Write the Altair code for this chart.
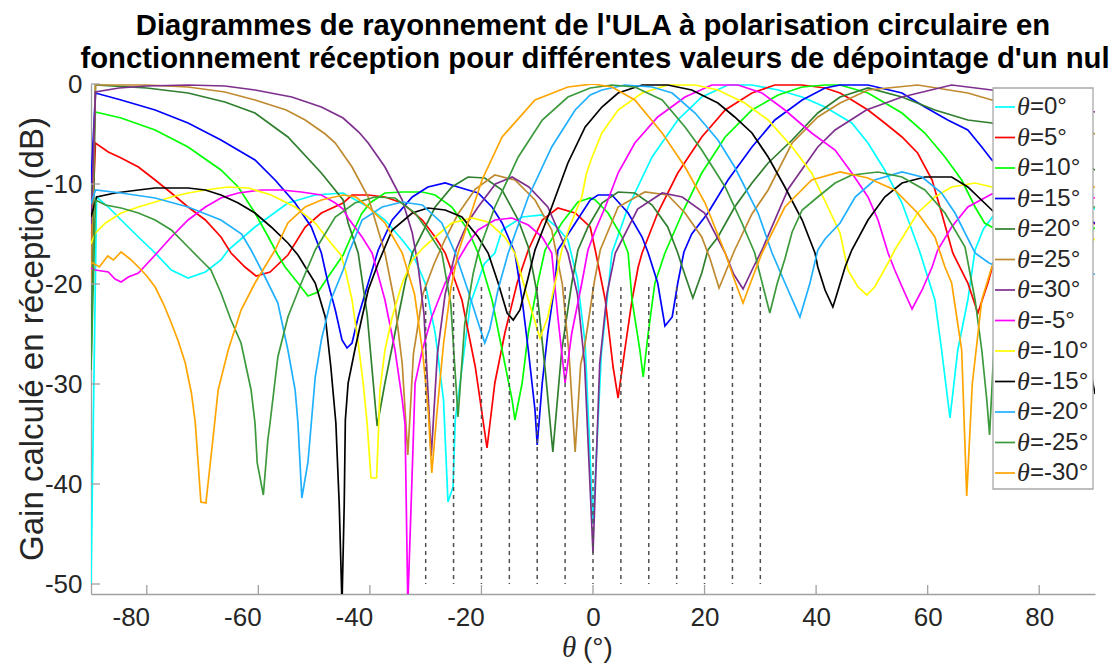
import altair as alt
import pandas as pd

# ---------------- data ----------------
NAMES = ["θ=0°", "θ=5°", "θ=10°", "θ=15°", "θ=20°", "θ=25°", "θ=30°",
         "θ=-5°", "θ=-10°", "θ=-15°", "θ=-20°", "θ=-25°", "θ=-30°"]
COLORS = ["#00FFFF", "#FF0000", "#00FF00", "#0000FF", "#2F7F2F", "#BF8A30", "#7E2F8E",
          "#FF00FF", "#FFFF00", "#000000", "#20B0FF", "#3C9A3C", "#FFA500"]

T0 = [(-90,-50),(-89,-11.3),(-86.9,-12.3),(-84.6,-13.6),(-81.5,-15.3),(-78.5,-16.9),(-75.6,-18.6),(-72.6,-19.4),(-69.5,-18.8),(-66.7,-17.6),(-65.4,-16.6),(-60.6,-14.3),(-54.7,-11.9),(-49.8,-11.1),(-44.8,-10.9),(-43.2,-11.4),(-40.3,-12.3),(-37.3,-13.6),(-34.2,-15.6),(-32.4,-16.9),(-30.1,-19.9),(-28.3,-24.9),(-26.8,-31.6),(-26,-41.8),(-25.1,-40.3),(-24.7,-33.6),(-22,-22),(-19.5,-18),(-17.6,-16.9),(-16.3,-14.6),(-12.7,-13.3),(-9.1,-13.1),(-6.5,-14.3),(-4.5,-15.6),(-2.8,-19.5),(-1.4,-26),(0,-44),(1.5,-27),(3.4,-16.9),(6.3,-12.3),(10.6,-7.3),(15.2,-3.6),(19.5,-1.3),(24.2,-0.1),(28.5,-0.1),(33.2,-0.6),(37.5,-1.3),(41.6,-2.3),(43.4,-2.9),(46.4,-3.9),(49.3,-5.9),(52.3,-8.6),(55.4,-11.9),(58.6,-16.8),(61.3,-21.6),(62.5,-26.6),(64,-33.4),(65.4,-26.6),(67.2,-21.6),(68.5,-16.6),(70,-14.5),(72,-13),(76,-11.5),(81,-11),(86,-11.5),(90,-12.5)]
T5 = [(-90,-17),(-89.2,-5.9),(-86.9,-6.8),(-84.6,-7.4),(-81.5,-8.3),(-78.5,-9.6),(-75.6,-10.9),(-72.6,-12.3),(-69.5,-13.6),(-66.7,-15.3),(-64.9,-16.9),(-62.4,-18.3),(-60.4,-19.2),(-57.9,-18.8),(-54.7,-17.1),(-51.6,-14.3),(-48.7,-12.9),(-44.8,-11.9),(-43.2,-11.1),(-40.3,-11.1),(-37.3,-11.3),(-34.2,-11.9),(-30.6,-13.6),(-28.3,-15.3),(-26.5,-16.9),(-23.5,-21.6),(-21.1,-28.3),(-19,-36.4),(-17.6,-29.9),(-15.8,-24.9),(-13.6,-19.9),(-11.6,-16.6),(-9.1,-13.6),(-6.3,-12.4),(-3.2,-12.9),(-0.5,-14.3),(0.4,-16.6),(2.2,-21.6),(3.6,-28.3),(4.5,-31.4),(5.7,-26.6),(7,-21.6),(8.1,-18.3),(8.8,-16.9),(11.6,-12.9),(15.2,-8.9),(19.5,-5.3),(23.7,-2.6),(28.5,-0.9),(32.6,-0.1),(37.5,-0.1),(41.6,-0.4),(44.3,-0.9),(46.4,-1.6),(49.3,-2.6),(52.3,-3.9),(55.4,-5.3),(58.2,-6.9),(60.8,-9.6),(62.5,-12.9),(64.5,-16.9),(67.2,-19.9),(69,-22.9),(70.8,-19.9),(72,-17.5),(76,-14.5),(81,-13),(86,-13),(90,-14)]
T10 = [(-90,-11),(-89.2,-2.8),(-84.6,-3.4),(-78.5,-4.6),(-72.6,-6.3),(-66.7,-8.6),(-63.6,-10.3),(-60.6,-12.9),(-58.2,-15.3),(-56.5,-17.1),(-55.2,-18.3),(-52.9,-19.9),(-51.1,-21.2),(-49.3,-20.8),(-47.5,-19.3),(-44.8,-17.1),(-43,-14.8),(-41.5,-13),(-40,-11.9),(-37.3,-10.9),(-34.2,-10.8),(-30.6,-10.8),(-28.3,-11.1),(-25.3,-12.3),(-22.4,-14.6),(-20.6,-16.9),(-18.1,-21.6),(-16.3,-26.6),(-14.5,-31.6),(-14,-33.6),(-12.7,-29.9),(-11.6,-24.9),(-9.9,-19.9),(-8.6,-16.6),(-5.6,-13.9),(-2.7,-11.8),(-0.5,-11.4),(0.4,-11.6),(2.7,-12.9),(5.2,-15.3),(6.3,-16.9),(7,-21.6),(8.4,-26.6),(9,-29.3),(9.9,-24.9),(11.1,-19.9),(12.9,-16.9),(16.5,-12.3),(19.5,-8.9),(23.7,-5.3),(28.5,-2.6),(33.2,-1.1),(37.5,-0.3),(41.6,-0.1),(44.3,-0.1),(49.3,-0.9),(55.4,-2.9),(59.5,-4.9),(63.1,-7.3),(66.1,-9.6),(68.5,-12.3),(70.2,-13.9),(71.5,-14.3),(76,-15.5),(81,-15.8),(86,-15),(90,-14.4)]
T15 = [(-90,-10),(-89.2,-0.9),(-84.6,-1.6),(-78.5,-2.6),(-72.6,-3.9),(-66.7,-5.6),(-60.6,-7.6),(-57,-9.6),(-53.4,-11.9),(-50.5,-14.3),(-48.7,-16.9),(-47.5,-19.9),(-46.2,-22.6),(-45,-25.6),(-44.1,-26.4),(-43.2,-25.9),(-42.1,-23.3),(-40.3,-19.9),(-38.5,-16.6),(-36,-13.6),(-32.4,-11.3),(-29.6,-10.3),(-26.5,-9.9),(-24.2,-10.3),(-20.6,-10.9),(-18.1,-12.3),(-16.3,-13.9),(-15.2,-15.3),(-14,-16.9),(-12.7,-21.6),(-11.6,-26.6),(-10.4,-32.6),(-10,-36.1),(-9.1,-29.9),(-8.1,-24.9),(-6.8,-19.9),(-6.3,-16.6),(-2,-12.9),(-0.5,-11.6),(0.9,-11.1),(3.4,-11.1),(6.3,-12.9),(8.8,-15.3),(9.9,-16.9),(11.6,-19.9),(12.9,-24.2),(14.2,-23.3),(15.2,-19.9),(16.3,-16.8),(17.7,-15),(20.6,-12.9),(24.2,-9.6),(28.5,-6.3),(32.6,-3.6),(37.5,-1.6),(41.6,-0.4),(44.3,-0.1),(49.3,-0.1),(55.4,-0.9),(59.5,-2.3),(63.6,-3.6),(67.2,-4.6),(69.7,-6.3),(71.5,-7.6),(76,-9.5),(81,-11.5),(86,-13),(90,-13.9)]
T20 = [(-90,-28.6),(-89.2,-0.1),(-80,-0.4),(-72.6,-0.9),(-66,-1.8),(-60.6,-2.9),(-54.7,-5.3),(-48.7,-8.9),(-44.8,-11.6),(-43.9,-13.9),(-42.1,-16.9),(-40.5,-23),(-38.7,-34.2),(-37.3,-29.9),(-35.5,-24.9),(-33.7,-19.9),(-32.4,-16.9),(-28.3,-12.3),(-25.3,-10.3),(-22.4,-9.3),(-19.4,-9.4),(-16.3,-10.6),(-13.4,-13.6),(-11.6,-16.3),(-10,-21),(-8.5,-29),(-7.2,-36.8),(-5.6,-26.6),(-3.8,-19.9),(-2.7,-16.6),(-0.9,-14.3),(1.6,-11.9),(4.5,-10.8),(7.5,-10.9),(10.6,-12.1),(13.4,-14.3),(15.2,-16.9),(16,-18.3),(17.9,-21.4),(19.5,-18.9),(20.6,-16.6),(22.4,-15.3),(25.4,-12.3),(28.5,-9.9),(31.4,-7.9),(35.7,-5.6),(40.3,-2.9),(44.3,-1.3),(49.3,-0.4),(55.4,-1.3),(61.3,-2.6),(67.2,-3.6),(71.5,-3.9),(76,-5),(81,-6.3),(86,-7.6),(90,-8.6)]
T25 = [(-90,-20),(-89.2,-0.1),(-80,-0.1),(-72.6,-0.3),(-66,-0.8),(-60.6,-1.6),(-55,-2.6),(-51.6,-3.6),(-48,-5),(-46.2,-5.9),(-43.2,-8.3),(-40.3,-11.3),(-37.3,-16.9),(-35.5,-22),(-34.2,-28),(-33.2,-37.1),(-32.2,-27),(-30.5,-21),(-28.5,-18),(-26.5,-15.5),(-24.2,-13),(-21.1,-10.5),(-17.6,-9.1),(-14,-9.6),(-10.4,-11.6),(-7.4,-14.6),(-5.5,-20),(-4.3,-27),(-3.2,-36.8),(-2.2,-28),(-1.6,-26.6),(0.2,-19.9),(1.3,-16.6),(4.5,-12.3),(9.3,-10.8),(13.4,-11.1),(16.5,-12.9),(19.5,-15.3),(21,-17.5),(22.6,-20.4),(24,-18.5),(25.4,-16.6),(28.5,-13),(31.4,-10.6),(35.7,-5.9),(40.3,-3.3),(44.3,-1.9),(49.3,-0.6),(58.2,-0.1),(67.2,-0.9),(71.5,-1.6),(76,-2.5),(81,-3.5),(86,-4.4),(90,-5)]
T30 = [(-90,-14),(-89.2,-0.8),(-85,-0.4),(-80,-0.2),(-72.6,-0.1),(-66,-0.2),(-60.6,-0.6),(-54,-1.3),(-48.7,-2.3),(-44.8,-3.4),(-42,-4.8),(-40.3,-5.9),(-37.3,-8.3),(-34.2,-11.6),(-32.4,-14.9),(-31.4,-18),(-30.3,-23),(-29,-37.2),(-27.9,-27),(-26.5,-21),(-24.5,-16.5),(-22.4,-13.8),(-20.6,-12.3),(-17.5,-10),(-14.5,-9.3),(-11.5,-10.3),(-8.1,-12.3),(-4.5,-16.9),(-2.8,-21),(-1.5,-28),(0,-46.9),(1.2,-28),(2.5,-21),(4,-16.9),(8,-12.5),(12.4,-10.9),(16,-11.3),(20,-12.9),(23.7,-16.9),(25.2,-19),(26.9,-20.5),(28.6,-18.5),(30.3,-16.6),(35,-10.5),(40.3,-6.3),(43.4,-4.6),(49,-2.6),(55.4,-1.3),(64.3,-0.1),(71.5,-0.6),(76,-1.3),(81,-1.9),(86,-2.4),(90,-2.8)]
TM5 = [(-90,-18.4),(-89.2,-18.6),(-86.9,-18.8),(-85.7,-19.5),(-84.6,-19.8),(-83.3,-19.3),(-81.5,-18.9),(-78.5,-17.1),(-75.6,-15.3),(-72.6,-13.6),(-69.5,-12.3),(-66.7,-11.4),(-63.6,-10.9),(-59.5,-10.6),(-55.9,-10.6),(-52.3,-10.8),(-48.7,-11.1),(-46.2,-11.9),(-44.8,-12.5),(-43.9,-13.4),(-41.4,-15.3),(-39.6,-16.9),(-37.3,-21.6),(-35.5,-26.6),(-34.2,-31.6),(-33.7,-34),(-33.2,-52),(-32.3,-36.9),(-31.9,-29.9),(-30.6,-26.6),(-28.9,-23.3),(-26.5,-19.9),(-24.2,-17.6),(-22.5,-16),(-20.6,-14.6),(-17.6,-13.6),(-14.5,-13.4),(-11.6,-14.1),(-9.1,-15.3),(-7.4,-16.9),(-6.3,-23.3),(-5,-29.9),(-3.8,-24.9),(-2,-19.9),(-0.9,-16.6),(0.5,-14.5),(2.2,-12.3),(4.5,-8.9),(7.5,-5.9),(11.6,-3.3),(16.5,-1.3),(21.3,-0.1),(26,-0.1),(30.3,-0.9),(34.4,-2.6),(39.2,-4.9),(43.4,-6.6),(46.4,-8.9),(49.3,-11.3),(51.1,-13.6),(52.9,-16.9),(54.1,-18.6),(55.9,-20.9),(57.2,-22.5),(59,-20.6),(60.8,-18.3),(61.8,-16.6),(64.3,-14.3),(67.2,-12.3),(71.5,-11),(76,-10.5),(81,-10.5),(86,-11),(90,-11.4)]
TM10 = [(-90,-16),(-89.2,-14.9),(-87.4,-13.9),(-84.6,-12.9),(-81.5,-12.3),(-78.5,-11.8),(-75.6,-11.3),(-72.6,-10.9),(-69.5,-10.6),(-65.4,-10.3),(-61.8,-10.4),(-57.7,-11.1),(-53.4,-12.3),(-49.8,-13.9),(-47,-15.9),(-45.2,-17.1),(-44.4,-18.6),(-43.2,-21.6),(-42.1,-25.9),(-41.2,-29.9),(-40.5,-33.9),(-39.8,-39.4),(-38.8,-39.4),(-38.5,-35.3),(-38.2,-30.6),(-37.3,-26.6),(-36,-23.3),(-34.2,-19.9),(-32.4,-17.6),(-30.5,-16.4),(-28.3,-15.3),(-25.3,-13.9),(-21.7,-13.4),(-18.8,-13.8),(-15.8,-15.3),(-14,-16.9),(-11.6,-21.6),(-9.5,-25.4),(-8.1,-23.3),(-6.8,-19.9),(-5.6,-16.6),(-4,-14),(-2,-11.3),(-1.2,-9),(-0.3,-7.5),(1.6,-4.9),(4.5,-2.6),(8.8,-0.9),(13.4,-0.1),(18.3,-0.1),(22.4,-0.6),(27.2,-1.9),(31.4,-3.6),(35.7,-6.3),(39.2,-8.9),(42.1,-12.3),(44.3,-14.9),(45.7,-18.6),(47.5,-20.3),(49.1,-21.1),(50.5,-20.3),(52.9,-17.9),(54.1,-16.6),(58.2,-12.9),(61.3,-11.3),(64.3,-10.3),(68.5,-9.9),(71.5,-10.3),(76,-11.5),(81,-13),(86,-14.5),(90,-15.6)]
TM15 = [(-90,-13.3),(-89,-11.3),(-85.7,-10.9),(-81.5,-10.6),(-78.5,-10.4),(-72.6,-10.4),(-69.5,-10.6),(-66.7,-11.1),(-63.6,-11.9),(-60.6,-12.9),(-57.7,-14.3),(-54.7,-15.9),(-52.9,-17.1),(-49.8,-19.9),(-48,-23.3),(-47,-28.3),(-46.1,-33.9),(-45.5,-42),(-45,-52),(-44.6,-42),(-44.4,-33.6),(-43.9,-29.9),(-42.7,-26.6),(-41.4,-23.3),(-40.3,-20.6),(-38.5,-17.9),(-36,-14.6),(-32.4,-12.9),(-29.6,-12.4),(-26.5,-12.6),(-23.5,-13.3),(-20.6,-15.3),(-18.8,-16.9),(-17,-19.9),(-15.4,-22.9),(-14.3,-23.6),(-13.1,-22.6),(-11.6,-19.3),(-10.4,-16.6),(-7.4,-12.3),(-4.5,-7.9),(-1.4,-4.3),(1.6,-2.3),(4.5,-0.9),(8.8,-0.1),(13.4,-0.1),(17.7,-0.6),(22.4,-1.9),(25.4,-3.3),(28.5,-4.9),(31.4,-7.3),(34.4,-10.3),(37.5,-13.6),(39.8,-16.9),(40.3,-18.3),(41.6,-20.6),(43,-22.3),(43.4,-21.6),(45.2,-18.3),(46.4,-16.6),(49.3,-13.6),(52.3,-11.3),(55.4,-9.9),(59.5,-9.3),(64.3,-9.3),(67.2,-10.3),(71.5,-12.6),(76,-15),(81,-18.5),(86,-23),(89.4,-29.3),(90,-31)]
TM20 = [(-90,-12),(-89.2,-10.6),(-84.6,-10.9),(-78.5,-11.4),(-72.6,-12.3),(-66.7,-13.6),(-63,-15),(-61.3,-16.6),(-58.8,-19.3),(-56.5,-21.9),(-54.7,-26.6),(-53.4,-30.6),(-52.9,-33.9),(-52.2,-41.4),(-51.1,-37.8),(-49.8,-29.3),(-48.7,-25.6),(-47,-21.6),(-44.8,-18.6),(-43.8,-16.9),(-41.4,-13.6),(-37.8,-12.3),(-34.2,-11.8),(-30.6,-12.1),(-27.1,-13.9),(-24.7,-16.9),(-22.5,-20.5),(-20.5,-24),(-19.4,-25.9),(-18.5,-24.5),(-17,-20.5),(-15.2,-16.9),(-11.6,-11.3),(-7.4,-6.3),(-3.2,-2.6),(-0.5,-1.1),(1.6,-0.6),(5.7,-0.1),(10.6,-0.3),(14.2,-0.9),(18.3,-2.9),(22.4,-5.6),(25.4,-8.3),(29.6,-12.9),(32.1,-16.9),(34.5,-20),(37.1,-23.3),(38.9,-19.9),(40.3,-16.6),(41.6,-15.5),(44.3,-13.9),(47,-11.3),(50.5,-9.6),(55.4,-8.8),(59,-9.3),(62.5,-10.9),(64.9,-12.9),(68.5,-16.9),(71,-17.9),(76,-19),(81,-19.5),(86,-19.3),(90,-19)]
TM25 = [(-90,-28.6),(-89.2,-11.6),(-87.4,-12.1),(-84.6,-12.4),(-81.5,-12.9),(-78.5,-13.6),(-75.6,-14.6),(-72.6,-16.3),(-70.3,-17.6),(-68.5,-18.6),(-66.7,-20.9),(-64.9,-23.6),(-63.1,-25.9),(-61.3,-30.6),(-60.6,-33.9),(-60.2,-37.9),(-59.1,-41.1),(-58.3,-35.6),(-57.9,-33.9),(-56.5,-27.3),(-54.7,-23.3),(-52.3,-19.9),(-49.8,-16.6),(-46.2,-13.3),(-42.7,-11.9),(-39.1,-11.3),(-35.5,-11.4),(-31.9,-12.9),(-30.1,-14.3),(-27.1,-16.9),(-25.5,-22),(-24.2,-33.3),(-23,-24),(-21.5,-19),(-20.6,-16.9),(-17.6,-12.3),(-13.4,-7.3),(-9.1,-3.6),(-4.5,-1.3),(-0.5,-0.4),(3.4,-0.1),(7.5,-0.3),(12.4,-1.6),(16.5,-4.3),(19.5,-6.6),(23.7,-10.3),(26.7,-13.9),(29,-16.9),(29.6,-18.3),(31.7,-22.9),(33,-20),(34.4,-17.5),(35.7,-14.8),(37.5,-12.6),(40.3,-11.3),(43.4,-9.9),(46.4,-9.1),(51.1,-8.8),(55.4,-9.3),(59.5,-10.6),(63.1,-12.9),(66.7,-16.3),(68.5,-21.6),(69.7,-26.6),(70.6,-31.6),(71.1,-35.1),(72,-25),(74,-18),(78,-14),(83,-12.5),(90,-12.3)]
TM30 = [(-90,-17.8),(-88.5,-18.3),(-87,-17.2),(-86,-17.6),(-84.6,-16.8),(-83,-17.5),(-81.5,-18.3),(-80,-19.2),(-78.5,-20.3),(-77,-22),(-75.6,-23.9),(-74.3,-25.8),(-73.1,-27.9),(-72,-30.9),(-71.3,-33.9),(-70.3,-41.8),(-69.4,-41.9),(-68.1,-35.3),(-67.2,-30.6),(-65.4,-26.6),(-63.1,-22.6),(-60.6,-19.9),(-57,-16.6),(-54.7,-13.9),(-51.6,-12.3),(-48.7,-11.6),(-44.8,-11.1),(-42.5,-11.3),(-40.3,-12.3),(-37.3,-13.9),(-34.2,-16.9),(-32,-21),(-30.5,-27),(-29.5,-33),(-28.9,-38.9),(-28,-33),(-26.8,-26),(-25.5,-20.5),(-24.2,-16.9),(-19.9,-9.6),(-16.3,-5.3),(-10.4,-1.6),(-4.5,-0.3),(0,0),(3.4,-0.3),(7.5,-1.6),(12.4,-4.9),(16.5,-8.3),(20.1,-11.9),(23.7,-16.9),(25.3,-19.5),(26.9,-21.9),(28.5,-19.5),(30.3,-16.9),(34.4,-12.3),(39.2,-9.6),(44.3,-8.8),(49.3,-9.4),(54.1,-10.6),(58.2,-12.9),(61.3,-15.3),(63.1,-18.3),(64.3,-19.9),(66.1,-26.6),(67,-41.2),(68,-30),(69.7,-21.6),(71.5,-18.3),(75,-14.5),(80,-12),(85,-10.8),(90,-10.3)]
CURVES = [T0, T5, T10, T15, T20, T25, T30, TM5, TM10, TM15, TM20, TM25, TM30]

X_TICKS = [-80, -60, -40, -20, 0, 20, 40, 60, 80]
Y_TICKS = [-50, -40, -30, -20, -10, 0]
NULL_DIRS = [-30, -25, -20, -15, -10, -5, 0, 5, 10, 15, 20, 25, 30]
NULL_TOP, NULL_BOTTOM = -20.3, -50.0

TITLE_LINES = ["Diagrammes de rayonnement de l'ULA à polarisation circulaire en",
               "fonctionnement réception pour différentes valeurs de dépointage d'un nul"]
Y_TITLE = "Gain calculé en réception (dB)"

# ---------------- chart ----------------
W, H = 1004, 510
FONT = "Liberation Sans"
AX = "#A0A0A0"
LBL = "datum.value < 0 ? '-' + abs(datum.value) : '' + datum.value"
xs = alt.Scale(domain=[-90, 90], nice=False, zero=False)
ys = alt.Scale(domain=[-51, 0], nice=False, zero=False)
xaxis = alt.Axis(values=X_TICKS, title=None, grid=False, ticks=False, tickSize=0, labelExpr=LBL,
                 labelOffset={"condition": {"test": "datum.value < 0", "value": -16}, "value": 0},
                 labelPadding=10, labelFontSize=26, labelFont=FONT, labelColor="#262626",
                 domainColor=AX, domainWidth=1.3)
yaxis = alt.Axis(values=Y_TICKS, title=None, grid=False, ticks=False, tickSize=0, labelExpr=LBL,
                 labelPadding=9, labelFontSize=26, labelFont=FONT, labelColor="#262626",
                 domainColor=AX, domainWidth=1.3)
cscale = alt.Scale(domain=NAMES, range=COLORS)

layers = []
for name, pts in zip(NAMES, CURVES):
    d = pd.DataFrame(pts, columns=["x", "y"])
    d["series"] = name
    layers.append(
        alt.Chart(d).mark_line(strokeWidth=1.7, clip=True).encode(
            x=alt.X("x:Q", scale=xs, axis=xaxis),
            y=alt.Y("y:Q", scale=ys, axis=yaxis),
            color=alt.Color("series:N", scale=cscale, legend=None),
            order=alt.Order("x:Q"),
        )
    )

nulls = pd.DataFrame({"x": NULL_DIRS, "y": [NULL_TOP] * len(NULL_DIRS),
                      "y2": [NULL_BOTTOM] * len(NULL_DIRS)})
layers.append(alt.Chart(nulls).mark_rule(color="#505050", strokeWidth=1.5, strokeDash=[4, 4]).encode(
    x=alt.X("x:Q", scale=xs, axis=xaxis), y=alt.Y("y:Q", scale=ys, axis=yaxis), y2="y2:Q"))

# inward ticks
layers.append(alt.Chart(pd.DataFrame({"t": X_TICKS})).mark_rule(color=AX, strokeWidth=1.3).encode(
    x=alt.X("t:Q", scale=xs, axis=xaxis), y=alt.value(H), y2=alt.value(H - 9)))
layers.append(alt.Chart(pd.DataFrame({"t": Y_TICKS})).mark_rule(color=AX, strokeWidth=1.3).encode(
    y=alt.Y("t:Q", scale=ys, axis=yaxis), x=alt.value(0), x2=alt.value(9)))

# legend
one = pd.DataFrame({"a": [0]})
layers.append(alt.Chart(one).mark_rect(fill="white", stroke="#A8A8A8", strokeWidth=1.3).encode(
    x=alt.value(902), x2=alt.value(1002), y=alt.value(4), y2=alt.value(405)))
leg = pd.DataFrame({"series": NAMES, "i": list(range(len(NAMES)))})
leg["py"] = 23 + leg["i"] * 30.5
leg["rest"] = [n[1:] for n in NAMES]
layers.append(alt.Chart(leg).mark_rule(strokeWidth=1.7).encode(
    x=alt.value(904), x2=alt.value(924), y=alt.Y("py:Q", scale=None),
    color=alt.Color("series:N", scale=cscale, legend=None)))
layers.append(alt.Chart(leg).mark_text(text="θ", font="Liberation Serif", fontStyle="italic",
                                       fontSize=26, align="left", baseline="middle", color="#262626").encode(
    x=alt.value(926), y=alt.Y("py:Q", scale=None)))
layers.append(alt.Chart(leg).mark_text(font=FONT, fontSize=24, align="left", baseline="middle",
                                       color="#262626").encode(
    x=alt.value(939), y=alt.Y("py:Q", scale=None), text="rest:N"))

# titles
layers.append(alt.Chart(one).mark_text(text=TITLE_LINES[0], font=FONT, fontSize=29.3, fontWeight="bold",
                                       align="center", baseline="alphabetic", color="black").encode(
    x=alt.value(W / 2), y=alt.value(-49)))
layers.append(alt.Chart(one).mark_text(text=TITLE_LINES[1], font=FONT, fontSize=29.3, fontWeight="bold",
                                       align="center", baseline="alphabetic", color="black").encode(
    x=alt.value(W / 2 + 2), y=alt.value(-16)))
layers.append(alt.Chart(one).mark_text(text=Y_TITLE, font=FONT, fontSize=33, angle=270,
                                       align="center", baseline="middle", color="#262626").encode(
    x=alt.value(-58), y=alt.value(H / 2)))
layers.append(alt.Chart(one).mark_text(text="θ", font="Liberation Serif", fontStyle="italic", fontSize=29,
                                       align="center", baseline="alphabetic", color="#262626").encode(
    x=alt.value(478), y=alt.value(573)))
layers.append(alt.Chart(one).mark_text(text="(°)", font=FONT, fontSize=28,
                                       align="left", baseline="alphabetic", color="#262626").encode(
    x=alt.value(492), y=alt.value(573)))

chart = alt.layer(*layers).properties(
    width=W, height=H,
    autosize=alt.AutoSizeParams(type="none"),
    padding={"left": 83, "top": 76, "right": 14, "bottom": 70},
).configure_view(stroke=None)

chart.save("out.html", embed_options={"renderer": "svg", "actions": False})
